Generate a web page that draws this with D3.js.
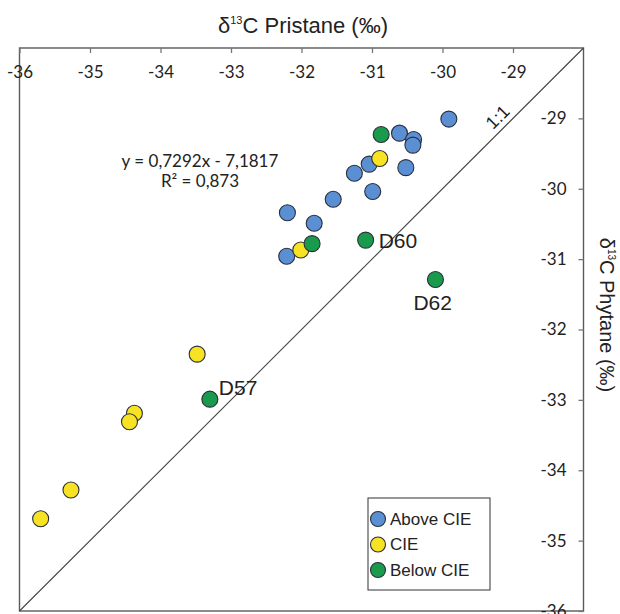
<!DOCTYPE html>
<html>
<head>
<meta charset="utf-8">
<script src="https://cdn.jsdelivr.net/npm/d3@7"></script>
<style>
  body { margin: 0; background: #fff; }
  svg { display: block; }
</style>
</head>
<body>
<div id="chart"></div>
<script>
// DATA
const aboveX = [-29.91, -30.61, -30.41, -30.42, -30.52, -31.04, -31.25, -30.99, -31.55, -32.20, -31.82, -32.21];
const aboveY = [-29.01, -29.21, -29.30, -29.38, -29.70, -29.65, -29.78, -30.04, -30.15, -30.34, -30.49, -30.96];
const cieX = [-30.89, -32.01, -33.48, -34.37, -34.44, -35.27, -35.70];
const cieY = [-29.57, -30.87, -32.35, -33.19, -33.31, -34.28, -34.69];
const belowX = [-30.87, -31.85, -31.09, -30.10, -33.30];
const belowY = [-29.23, -30.78, -30.73, -31.29, -32.99];
const sampleLabels = [
  { name: "D60", x: -31.09, y: -30.73 },
  { name: "D62", x: -30.10, y: -31.29 },
  { name: "D57", x: -33.30, y: -32.99 }
];
const tickValues = [-36, -35, -34, -33, -32, -31, -30, -29];
const yTickValues = [-29, -30, -31, -32, -33, -34, -35, -36];
const groups = ["Above CIE", "CIE", "Below CIE"];
const groupColors = ["#5b8fd3", "#f7e324", "#1a9a4c"];

// SIZE
const width = 620;
const height = 614;
const margin = { top: 48, left: 19.5, right: 36.5, bottom: 3 };
const innerW = width - margin.left - margin.right;
const innerH = 611 - margin.top;

const svg = d3.select("#chart").append("svg")
  .attr("width", width)
  .attr("height", height);

const g = svg.append("g")
  .attr("transform", `translate(${margin.left},${margin.top})`);

// SCALES
const xScale = d3.scaleLinear().domain([-36, -28]).range([0, innerW]);
const yScale = d3.scaleLinear().domain([-36, -28]).range([innerH, 0]);
const colorScale = d3.scaleOrdinal().domain(groups).range(groupColors);

// FRAME
g.append("rect")
  .attr("width", innerW)
  .attr("height", innerH)
  .attr("fill", "none")
  .attr("stroke", "#5a5a5a")
  .attr("stroke-width", 1.4);

// AXES (ticks pointing inward)
const xAxis = d3.axisTop(xScale).tickValues(tickValues).tickSize(-5).tickFormat(d => d);
const xAxisGroup = g.append("g").call(xAxis);
xAxisGroup.select(".domain").remove();
xAxisGroup.selectAll(".tick line").attr("stroke", "#777").attr("stroke-width", 1.3);
xAxisGroup.selectAll(".tick text")
  .attr("y", 25)
  .attr("dy", "0.32em")
  .attr("font-family", "Lato, 'Open Sans', sans-serif")
  .attr("font-size", 17)
  .attr("fill", "#222");

const yAxis = d3.axisRight(yScale).tickValues(yTickValues).tickSize(-5).tickFormat(d => d);
const yAxisGroup = g.append("g")
  .attr("transform", `translate(${innerW},0)`)
  .call(yAxis);
yAxisGroup.select(".domain").remove();
yAxisGroup.selectAll(".tick line").attr("stroke", "#777").attr("stroke-width", 1.3);
yAxisGroup.selectAll(".tick text")
  .attr("x", -17)
  .attr("text-anchor", "end")
  .attr("font-family", "Lato, 'Open Sans', sans-serif")
  .attr("font-size", 17)
  .attr("fill", "#222");

// AXIS TITLES
const topTitle = svg.append("text")
  .attr("x", 303)
  .attr("y", 33)
  .attr("text-anchor", "middle")
  .attr("font-family", "'Liberation Sans', Arial, sans-serif")
  .attr("font-size", 22)
  .attr("fill", "#222");
topTitle.append("tspan").text("δ");
topTitle.append("tspan").attr("font-size", 11).attr("dy", -9).text("13");
topTitle.append("tspan").attr("dy", 9).text("C Pristane (‰)");

const rightTitle = svg.append("text")
  .attr("transform", `translate(600,315) rotate(90)`)
  .attr("text-anchor", "middle")
  .attr("font-family", "'Liberation Sans', Arial, sans-serif")
  .attr("font-size", 20)
  .attr("fill", "#222");
rightTitle.append("tspan").text("δ");
rightTitle.append("tspan").attr("font-size", 10).attr("dy", -8).text("13");
rightTitle.append("tspan").attr("dy", 8).text("C Phytane (‰)");

// 1:1 LINE
g.append("line")
  .attr("x1", xScale(-36)).attr("y1", yScale(-36))
  .attr("x2", xScale(-28)).attr("y2", yScale(-28))
  .attr("stroke", "#444")
  .attr("stroke-width", 1.1);

g.append("text")
  .attr("transform", `translate(${xScale(-29.1) - 4},${yScale(-29.1) - 4}) rotate(-45)`)
  .attr("text-anchor", "middle")
  .attr("font-family", "'Liberation Sans', Arial, sans-serif")
  .attr("font-size", 18)
  .attr("fill", "#222")
  .text("1:1");

// REGRESSION TEXT
const eq = g.append("text")
  .attr("text-anchor", "middle")
  .attr("font-family", "Lato, 'Open Sans', sans-serif")
  .attr("font-size", 17)
  .attr("fill", "#222");
eq.append("tspan").attr("x", xScale(-33.44)).attr("y", yScale(-29.69)).text("y = 0,7292x - 7,1817");
eq.append("tspan").attr("x", xScale(-33.44)).attr("y", yScale(-29.97)).text("R² = 0,873");

// POINTS
const points = [];
aboveX.forEach((x, i) => points.push({ x, y: aboveY[i], group: "Above CIE" }));
cieX.forEach((x, i) => points.push({ x, y: cieY[i], group: "CIE" }));
belowX.forEach((x, i) => points.push({ x, y: belowY[i], group: "Below CIE" }));

g.selectAll(".dot")
  .data(points)
  .join("circle")
  .attr("class", "dot")
  .attr("cx", d => xScale(d.x))
  .attr("cy", d => yScale(d.y))
  .attr("r", 8)
  .attr("fill", d => colorScale(d.group))
  .attr("stroke", "#2a2f3a")
  .attr("stroke-width", 1.1);

// SAMPLE LABELS
const labelOffsets = { D60: [13, 8], D62: [-22, 30], D57: [9, -4] };
g.selectAll(".sample-label")
  .data(sampleLabels)
  .join("text")
  .attr("class", "sample-label")
  .attr("x", d => xScale(d.x) + labelOffsets[d.name][0])
  .attr("y", d => yScale(d.y) + labelOffsets[d.name][1])
  .attr("font-family", "'Liberation Sans', Arial, sans-serif")
  .attr("font-size", 21)
  .attr("fill", "#222")
  .text(d => d.name);

// LEGEND
const legend = svg.append("g").attr("transform", "translate(368,498)");
legend.append("rect")
  .attr("width", 122)
  .attr("height", 92)
  .attr("fill", "#fff")
  .attr("stroke", "#444")
  .attr("stroke-width", 1.1);
const items = legend.selectAll(".item")
  .data(groups)
  .join("g")
  .attr("class", "item")
  .attr("transform", (d, i) => `translate(10,${21 + i * 25.5})`);
items.append("circle")
  .attr("r", 7.5)
  .attr("fill", d => colorScale(d))
  .attr("stroke", "#2a2f3a")
  .attr("stroke-width", 1.1);
items.append("text")
  .attr("x", 12)
  .attr("dy", "0.35em")
  .attr("font-family", "'Liberation Sans', Arial, sans-serif")
  .attr("font-size", 17)
  .attr("fill", "#222")
  .text(d => d);
</script>
</body>
</html>
